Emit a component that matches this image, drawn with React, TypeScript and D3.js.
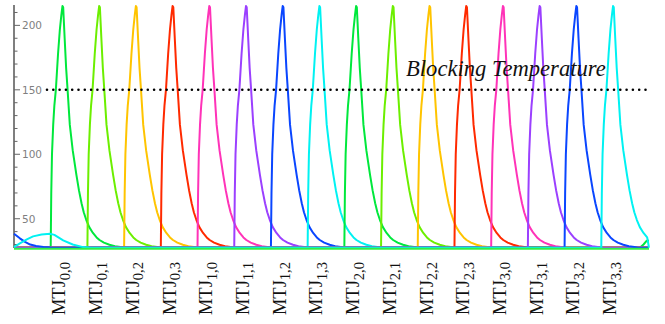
import React from 'react';
import * as d3 from 'd3';

// MTJ labels, in drawing order
const mtjLabels = ['0,0', '0,1', '0,2', '0,3', '1,0', '1,1', '1,2', '1,3',
  '2,0', '2,1', '2,2', '2,3', '3,0', '3,1', '3,2', '3,3'];
const colors = ['#00e83c', '#6cef00', '#ffc400', '#ff2a00', '#ff33b8', '#9b40ff', '#0a46ff', '#00f2f2',
  '#00e83c', '#6cef00', '#ffc400', '#ff2a00', '#ff33b8', '#9b40ff', '#0a46ff', '#00f2f2'];
// heating pulse start (ns)
const onsets = [10, 20, 30, 40, 50, 60, 70, 80, 90, 100, 110, 120, 130, 140, 150, 160];

// one pulse: time after onset (ns) and temperature
const pulseDt = [0, 0.15, 0.35, 0.68, 1.0, 1.4, 2.0, 2.5, 2.9, 3.2, 3.4, 3.8, 4.2, 4.6, 5.2, 6.0, 7.0,
  7.7, 8.4, 9.0, 9.7, 10.5, 11.5, 12.5, 13.3, 14.5, 16, 17.5, 19, 20];
const pulseTemp = [27.5, 70, 100, 123, 138, 150, 178, 197, 208, 215, 214, 190, 167, 150, 123, 103, 84,
  72, 62, 55, 49, 43.5, 39, 35.5, 33.5, 31.5, 29.8, 28.7, 28, 27.5];

// leftovers at the edges of the run
const blueLeadT = [0, 1.6, 3, 4.4, 6, 8, 10];
const blueLeadV = [38.4, 34.8, 32, 30, 28.8, 28, 27.6];
const cyanLeadT = [0, 1.6, 3.5, 5.2, 7.5, 9.8, 11, 13.4, 16, 18.8, 21];
const cyanLeadV = [28, 30.9, 34, 36.3, 37.8, 38.4, 37.5, 33.2, 30, 28, 27.5];
const greenTailT = [170.5, 171.5, 172.4, 173];
const greenTailV = [27.5, 30, 33, 33];

const ambient = 27.5;
const tEnd = 173;
const yMajor = [50, 100, 150, 200];
const yMinor = d3.range(30, 220, 10);
const blocking = 150;

const W = 665, H = 324;

function buildSeries(k: number): [number, number][] {
  const pts: [number, number][] = [];
  if (k === 14) blueLeadT.forEach((t, i) => pts.push([t, blueLeadV[i]]));
  else if (k === 15) cyanLeadT.forEach((t, i) => pts.push([t, cyanLeadV[i]]));
  else pts.push([0, ambient]);
  const t0 = onsets[k];
  pts.push([t0, ambient]);
  pulseDt.forEach((d, i) => {
    if (t0 + d <= tEnd) pts.push([t0 + d, pulseTemp[i]]);
  });
  const last = pts[pts.length - 1][0];
  if (k === 0) {
    pts.push([greenTailT[0], ambient]);
    greenTailT.forEach((t, i) => pts.push([t, greenTailV[i]]));
  } else if (last < tEnd) {
    pts.push([tEnd, ambient]);
  }
  return pts;
}

export default function App() {
  const x = d3.scaleLinear().domain([0, tEnd]).range([14, 649]);
  const y = d3.scaleLinear().domain([27.3, 215.8]).range([248, 5]);
  const line = d3.line<[number, number]>().x(d => x(d[0])).y(d => y(d[1]));
  const peakDt = pulseDt[pulseTemp.indexOf(d3.max(pulseTemp) as number)];

  return (
    <svg width={W} height={H} style={{ position: 'absolute', left: 0, top: 0, background: '#fff' }}>
      {/* y axis */}
      <line x1={14} x2={14} y1={y.range()[1]} y2={y.range()[0]} stroke="#555" strokeWidth={1.5} />
      {yMinor.map(v => (
        <line key={'m' + v} x1={14} x2={yMajor.includes(v) ? 20 : 17.5} y1={y(v)} y2={y(v)}
          stroke="#666" strokeWidth={1} />
      ))}
      {yMajor.map(v => (
        <text key={'l' + v} x={22} y={y(v)} dy="0.36em" fontFamily="DejaVu Sans" fontSize={10.5} fill="#7f7f7f">{v}</text>
      ))}

      {/* series */}
      {mtjLabels.map((lab, k) => (
        <path key={lab} d={line(buildSeries(k)) || ''} fill="none" stroke={colors[k]} strokeWidth={2}
          strokeLinejoin="round" />
      ))}
      <line x1={x(0)} x2={x(tEnd)} y1={y(ambient) + 1} y2={y(ambient) + 1} stroke="#33ee44" strokeWidth={2} />

      {/* blocking temperature */}
      <line x1={47} x2={649} y1={y(blocking)} y2={y(blocking)} stroke="#000" strokeWidth={2.6}
        strokeDasharray="0 6.3" strokeLinecap="round" />
      <text x={406} y={76} fontFamily="Liberation Serif" fontStyle="italic" fontSize={22.6} fill="#111">Blocking Temperature</text>

      {/* x labels */}
      {mtjLabels.map((lab, k) => (
        <text key={'x' + lab} transform={`translate(${x(onsets[k] + peakDt) + 3},262) rotate(-90)`}
          textAnchor="end" fontFamily="Liberation Serif" fontSize={18.5} fill="#111">
          MTJ<tspan dy={4.5} fontSize={14.5}>{lab}</tspan>
        </text>
      ))}
    </svg>
  );
}
